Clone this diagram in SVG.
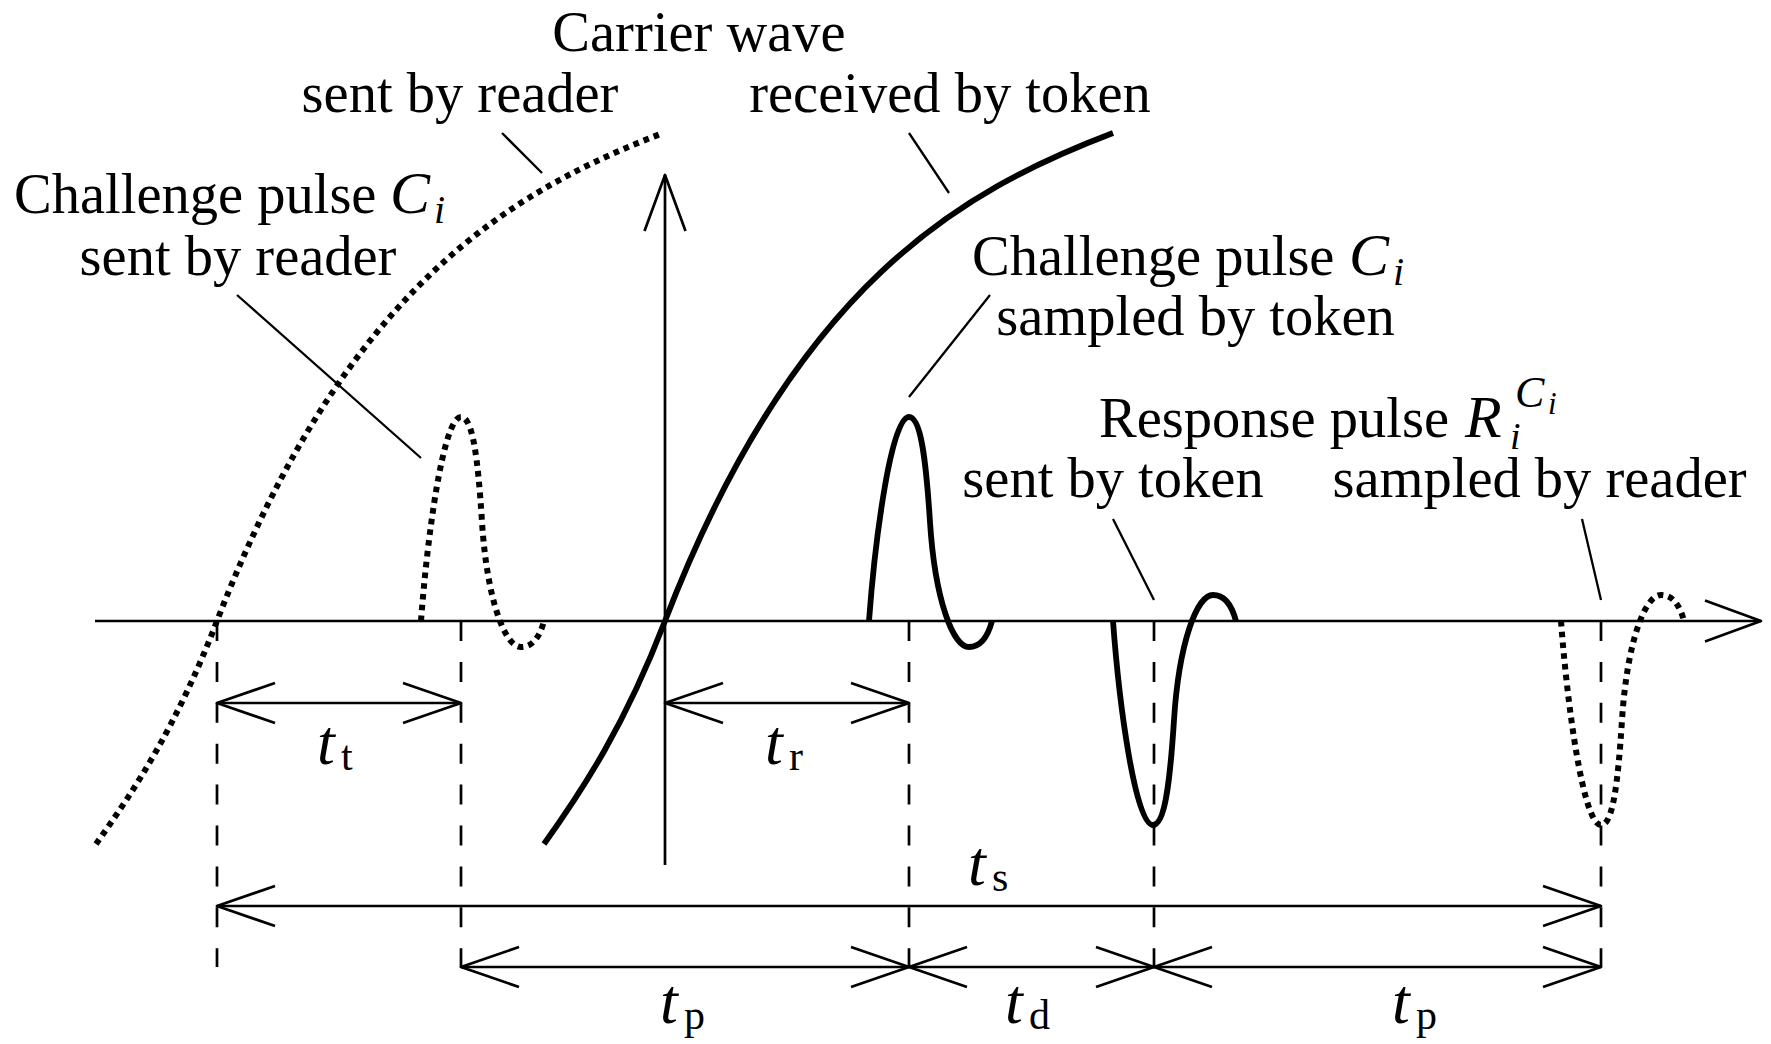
<svg xmlns="http://www.w3.org/2000/svg" width="1771" height="1044" viewBox="0 0 1771 1044">
<defs>
<style>
.lbl{font-family:"Liberation Serif","Times New Roman",serif;font-size:56.5px;fill:#000}
.mi{font-style:italic}
.m{font-family:"Liberation Serif","Times New Roman",serif;font-size:64px;font-style:italic;fill:#000}
.sub{font-style:normal;font-size:42px}
.thin{fill:none;stroke:#000;stroke-width:2.7}
.lead{fill:none;stroke:#000;stroke-width:2.3}
.dash{fill:none;stroke:#000;stroke-width:2.7;stroke-dasharray:20 20.9}
.solid{fill:none;stroke:#000;stroke-width:5.8}
.dot{fill:none;stroke:#000;stroke-width:6;stroke-dasharray:5.6 5.2}
.dim{fill:none;stroke:#000;stroke-width:2.7;marker-start:url(#chev);marker-end:url(#chev)}
</style>
<marker id="chev" markerUnits="userSpaceOnUse" viewBox="-62 -23 66 46" markerWidth="66" markerHeight="46" refX="0" refY="0" orient="auto-start-reverse">
<path d="M-58,-20 L0,0 L-58,20" fill="none" stroke="#000" stroke-width="2.7" stroke-linejoin="round"/>
</marker>
<marker id="axhead" markerUnits="userSpaceOnUse" viewBox="-62 -23 66 46" markerWidth="66" markerHeight="46" refX="0" refY="0" orient="auto">
<path d="M-56,-20.5 L0,0 L-56,20.5" fill="none" stroke="#000" stroke-width="2.7" stroke-linejoin="round"/>
</marker>
</defs>
<rect width="1771" height="1044" fill="#fff"/>

<g id="guides">
<line class="dash" x1="217" y1="621" x2="217" y2="967"/>
<line class="dash" x1="461" y1="621" x2="461" y2="967"/>
<line class="dash" x1="909" y1="621" x2="909" y2="967"/>
<line class="dash" x1="1154" y1="621" x2="1154" y2="967"/>
<line class="dash" x1="1601" y1="621" x2="1601" y2="967"/>
</g>

<g id="axes">
<line class="thin" x1="95" y1="621" x2="1761" y2="621" marker-end="url(#axhead)"/>
<line class="thin" x1="665" y1="865" x2="665" y2="175" marker-end="url(#axhead)"/>
</g>

<g id="carrier-sent">
<path class="dot" d="M96,844 C136,788 177,725 217,621 C347,283 515,190 663,133"/>
</g>
<g id="carrier-received">
<path class="solid" d="M544,844 C584,788 625,725 665,621 C795,283 963,190 1113,133"/>
</g>

<g id="pulse-challenge-sent">
<path class="dot" d="M421,621 C427,540 443,417 461,417 C473,417 478,460 482,522 C487,600 505,647 521,647 C533,647 540,636 544,621"/>
</g>
<g id="pulse-challenge-sampled">
<path class="solid" d="M869,621 C875,540 891,417 909,417 C921,417 926,460 930,522 C935,600 953,647 969,647 C981,647 988,636 992,621"/>
</g>
<g id="pulse-response-sent">
<path class="solid" d="M1113,621 C1119,702 1135,825 1153,825 C1165,825 1170,782 1174,720 C1179,642 1197,595 1213,595 C1225,595 1232,606 1236,621"/>
</g>
<g id="pulse-response-sampled">
<path class="dot" d="M1561,621 C1567,702 1583,825 1601,825 C1613,825 1618,782 1622,720 C1627,642 1645,595 1661,595 C1673,595 1680,606 1684,621"/>
</g>

<g id="connectors">
<line class="lead" x1="502" y1="133" x2="542" y2="173"/>
<line class="lead" x1="909" y1="133" x2="949" y2="193"/>
<line class="lead" x1="237" y1="295" x2="421" y2="458"/>
<line class="lead" x1="990" y1="295" x2="909" y2="397"/>
<line class="lead" x1="1113" y1="519" x2="1154" y2="600"/>
<line class="lead" x1="1582" y1="519" x2="1601" y2="600"/>
</g>

<g id="dimensions">
<line class="dim" x1="217" y1="703" x2="461" y2="703"/>
<line class="dim" x1="665" y1="703" x2="909" y2="703"/>
<line class="dim" x1="217" y1="906" x2="1601" y2="906"/>
<line class="dim" x1="461" y1="967" x2="909" y2="967"/>
<line class="dim" x1="909" y1="967" x2="1154" y2="967"/>
<line class="dim" x1="1154" y1="967" x2="1601" y2="967"/>
</g>

<g id="labels">
<text class="lbl" x="699" y="51" text-anchor="middle">Carrier wave</text>
<text class="lbl" x="460" y="112" text-anchor="middle">sent by reader</text>
<text class="lbl" x="950" y="112" text-anchor="middle">received by token</text>
<text class="lbl" x="14" y="213">Challenge pulse <tspan class="mi" x="390" font-size="60">C</tspan><tspan class="mi" x="434" y="223" font-size="40">i</tspan></text>
<text class="lbl" x="238" y="275" text-anchor="middle">sent by reader</text>
<text class="lbl" x="972" y="275">Challenge pulse <tspan class="mi" x="1349" font-size="60">C</tspan><tspan class="mi" x="1393" y="285" font-size="40">i</tspan></text>
<text class="lbl" x="1195.5" y="335" text-anchor="middle">sampled by token</text>
<text class="lbl" x="1099" y="437">Response pulse <tspan class="mi" x="1465" font-size="60">R</tspan><tspan class="mi" x="1510" y="449" font-size="38">i</tspan><tspan class="mi" x="1515" y="407" font-size="44">C</tspan><tspan class="mi" x="1548" y="414" font-size="31">i</tspan></text>
<text class="lbl" x="1113" y="497" text-anchor="middle">sent by token</text>
<text class="lbl" x="1539.5" y="497" text-anchor="middle">sampled by reader</text>
</g>

<g id="dim-labels">
<text class="m" x="317" y="764">t<tspan class="sub" x="341" y="770">t</tspan></text>
<text class="m" x="765" y="764">t<tspan class="sub" x="789" y="770">r</tspan></text>
<text class="m" x="968" y="885">t<tspan class="sub" x="992" y="891">s</tspan></text>
<text class="m" x="660" y="1023">t<tspan class="sub" x="684" y="1029">p</tspan></text>
<text class="m" x="1005" y="1023">t<tspan class="sub" x="1029" y="1029">d</tspan></text>
<text class="m" x="1392" y="1023">t<tspan class="sub" x="1416" y="1029">p</tspan></text>
</g>
</svg>
